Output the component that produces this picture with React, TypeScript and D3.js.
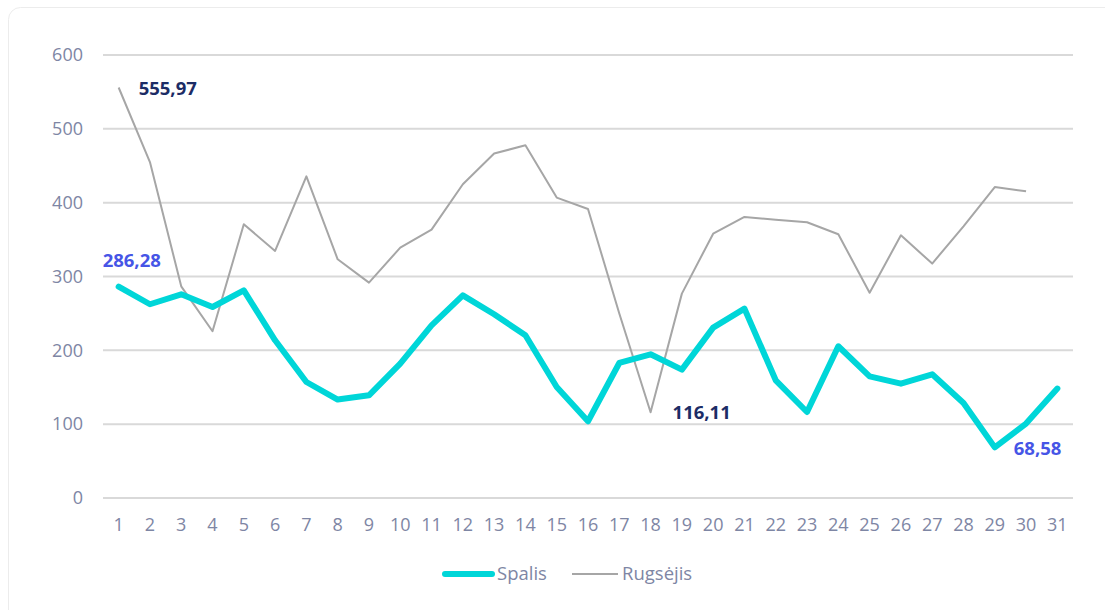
import React from "react";
import * as d3 from "d3";

const days = d3.range(1, 32).map(String);

// Spalis (October)
const spalis = [
  286.28, 262.4, 275.9, 258.7, 281.3, 213.6, 157.1, 133.3, 139.1, 182, 233.9,
  274.5, 248.8, 220.4, 150.3, 103.9, 182.9, 194.6, 173.9, 230.8, 256.5, 159.4,
  116.5, 205.5, 164.8, 154.9, 167.5, 128.7, 68.58, 100.8, 148.2,
];

// Rugsėjis (September), 30 days
const rugsejis = [
  555.97, 455, 286.7, 225.8, 370.7, 334.6, 435.7, 323.3, 291.7, 339.1, 363.5,
  424.9, 466.5, 477.7, 406.9, 391.5, 250, 116.11, 276.8, 358, 380.6, 377,
  373.4, 357.2, 278, 355.8, 317.5, 368, 421.2, 415.4,
];

const yTicks = [0, 100, 200, 300, 400, 500, 600];

const W = 1105;
const H = 610;
const margin = { top: 55, right: 32, bottom: 112, left: 103 };

const FONT = "'Open Sans', 'Noto Sans', sans-serif";
const TICK_COLOR = "#7e86a4";
const CYAN = "#00d6d8";
const GRAY = "#a6a6a6";

export default function App() {
  const x = d3
    .scaleBand()
    .domain(days)
    .range([margin.left, W - margin.right]);
  const y = d3
    .scaleLinear()
    .domain([0, 600])
    .range([H - margin.bottom, margin.top]);

  const cx = (i: number) => (x(days[i]) as number) + x.bandwidth() / 2;

  const line = d3
    .line<number>()
    .x((_, i) => cx(i))
    .y((d) => y(d));

  const fmt = (v: number) => v.toFixed(2).replace(".", ",");

  // value labels placed next to their points
  const callouts = [
    { i: 0, v: spalis[0], dx: -16, dy: -26, color: "#4655e6" },
    { i: 0, v: rugsejis[0], dx: 20, dy: 1, color: "#1c2c66" },
    { i: 17, v: rugsejis[17], dx: 22, dy: 0, color: "#1c2c66" },
    { i: 28, v: spalis[28], dx: 19, dy: 1, color: "#4655e6" },
  ];

  return (
    <svg
      width={W}
      height={H}
      style={{ position: "absolute", left: 0, top: 0, background: "#fff" }}
      fontFamily={FONT}
    >
      <rect
        x={8.5}
        y={7.5}
        width={W + 20}
        height={H + 20}
        rx={12}
        fill="#fff"
        stroke="#ececec"
      />

      {/* grid + y labels */}
      {yTicks.map((t) => (
        <g key={t}>
          <line
            x1={margin.left}
            x2={W - margin.right}
            y1={y(t)}
            y2={y(t)}
            stroke="#d9d9d9"
            strokeWidth={2}
          />
          <text
            x={margin.left - 20}
            y={y(t)}
            dy="0.35em"
            textAnchor="end"
            fontSize={18}
            fill={TICK_COLOR}
          >
            {t}
          </text>
        </g>
      ))}

      {/* x labels */}
      {days.map((d, i) => (
        <text
          key={d}
          x={cx(i)}
          y={H - margin.bottom + 27}
          dy="0.35em"
          textAnchor="middle"
          fontSize={18}
          fill={TICK_COLOR}
        >
          {d}
        </text>
      ))}

      <path
        d={line(rugsejis) || ""}
        fill="none"
        stroke={GRAY}
        strokeWidth={2}
        strokeLinejoin="round"
      />
      <path
        d={line(spalis) || ""}
        fill="none"
        stroke={CYAN}
        strokeWidth={6}
        strokeLinejoin="round"
        strokeLinecap="round"
      />

      {callouts.map((c, k) => (
        <text
          key={k}
          x={cx(c.i) + c.dx}
          y={y(c.v) + c.dy}
          dy="0.35em"
          fontSize={18.5}
          fontWeight={700}
          fill={c.color}
        >
          {fmt(c.v)}
        </text>
      ))}

      {/* legend */}
      <g transform="translate(0, 574)">
        <line x1={445} x2={492} y1={0} y2={0} stroke={CYAN} strokeWidth={6} strokeLinecap="round" />
        <text x={497} y={0} dy="0.35em" fontSize={18.5} fill={TICK_COLOR}>
          Spalis
        </text>
        <line x1={572} x2={618} y1={0} y2={0} stroke={GRAY} strokeWidth={2} />
        <text x={622} y={0} dy="0.35em" fontSize={18.5} fill={TICK_COLOR}>
          Rugsėjis
        </text>
      </g>
    </svg>
  );
}
